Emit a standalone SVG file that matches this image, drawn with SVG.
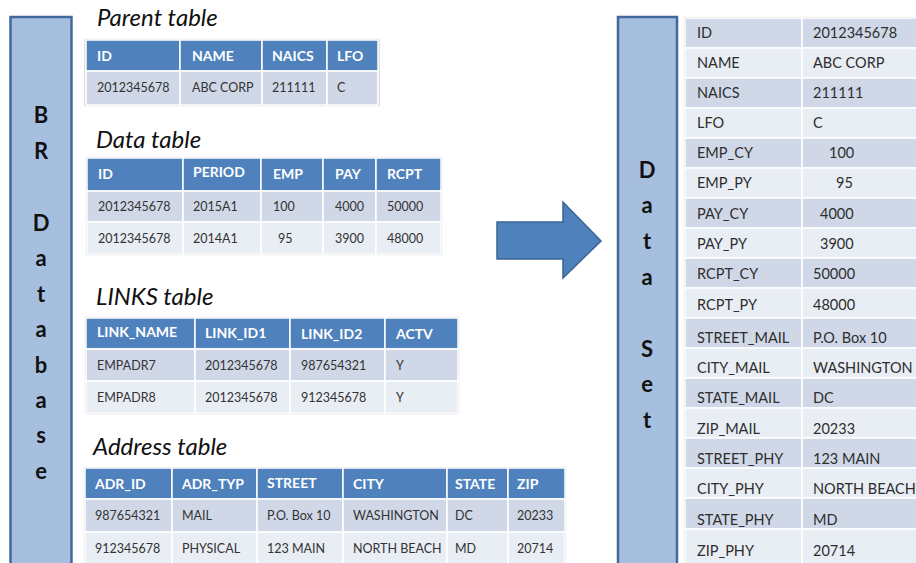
<svg xmlns="http://www.w3.org/2000/svg" width="916" height="563" viewBox="0 0 916 563">
  <style>
    .bar { fill: #a7bfdf; stroke: #41699a; stroke-width: 2.5; }
    .barTxt { font-family: Lato, "Liberation Sans", sans-serif; font-weight: bold; font-size: 22px; fill: #111; text-anchor: middle; }
    .title { font-family: Lato, "Liberation Sans", sans-serif; font-style: italic; font-size: 24px; fill: #111; }
    .frame { fill: #ffffff; stroke: #c8c8c8; stroke-width: 1.2; }
    .hd { fill: #4f81bd; stroke: #ffffff; stroke-width: 1.5; }
    .r1 { fill: #d0d8e8; stroke: #ffffff; stroke-width: 1.5; }
    .r2 { fill: #e9edf4; stroke: #ffffff; stroke-width: 1.5; }
    .ht { font-family: Lato, "Liberation Sans", sans-serif; font-weight: bold; font-size: 14px; fill: #ffffff; }
    .ct { font-family: Lato, "Liberation Sans", sans-serif; font-size: 12.5px; fill: #333333; }
    .rt { font-family: Lato, "Liberation Sans", sans-serif; font-size: 14.5px; fill: #2e2e2e; }
    .arrow { fill: #4f81bd; stroke: #3a6495; stroke-width: 1.5; }
  </style>

  <!-- source database bar -->
  <g id="br-database">
    <rect class="bar" x="10.5" y="17" width="61" height="560"/>
    <text class="barTxt" x="41" y="123">B</text>
    <text class="barTxt" x="41" y="159">R</text>
    <text class="barTxt" x="41" y="231">D</text>
    <text class="barTxt" x="41" y="266">a</text>
    <text class="barTxt" x="41" y="302">t</text>
    <text class="barTxt" x="41" y="337">a</text>
    <text class="barTxt" x="41" y="373">b</text>
    <text class="barTxt" x="41" y="408">a</text>
    <text class="barTxt" x="41" y="443">s</text>
    <text class="barTxt" x="41" y="479">e</text>
  </g>

  <!-- Parent table -->
  <g id="parent-table">
    <text class="title" x="97" y="26">Parent table</text>
    <rect class="frame" x="85" y="39.5" width="294" height="66"/>
    <rect class="hd" x="86" y="40" width="94" height="31"/>
    <rect class="hd" x="180" y="40" width="82" height="31"/>
    <rect class="hd" x="262" y="40" width="65" height="31"/>
    <rect class="hd" x="327" y="40" width="51" height="31"/>
    <rect class="r1" x="86" y="71" width="94" height="34"/>
    <rect class="r1" x="180" y="71" width="82" height="34"/>
    <rect class="r1" x="262" y="71" width="65" height="34"/>
    <rect class="r1" x="327" y="71" width="51" height="34"/>
    <text class="ht" x="97" y="61">ID</text>
    <text class="ht" x="192" y="61">NAME</text>
    <text class="ht" x="272" y="61">NAICS</text>
    <text class="ht" x="337" y="61">LFO</text>
    <text class="ct" x="97" y="92">2012345678</text>
    <text class="ct" x="192" y="92">ABC CORP</text>
    <text class="ct" x="272" y="92">211111</text>
    <text class="ct" x="337" y="92">C</text>
  </g>

  <!-- Data table -->
  <g id="data-table">
    <text class="title" x="96" y="148">Data table</text>
    <rect class="frame" x="86.5" y="157.5" width="355" height="97"/>
    <rect class="hd" x="87" y="158" width="96" height="33"/>
    <rect class="hd" x="183" y="158" width="78" height="33"/>
    <rect class="hd" x="261" y="158" width="62" height="33"/>
    <rect class="hd" x="323" y="158" width="53" height="33"/>
    <rect class="hd" x="376" y="158" width="65" height="33"/>
    <rect class="r1" x="87" y="191" width="96" height="31"/>
    <rect class="r1" x="183" y="191" width="78" height="31"/>
    <rect class="r1" x="261" y="191" width="62" height="31"/>
    <rect class="r1" x="323" y="191" width="53" height="31"/>
    <rect class="r1" x="376" y="191" width="65" height="31"/>
    <rect class="r2" x="87" y="222" width="96" height="32"/>
    <rect class="r2" x="183" y="222" width="78" height="32"/>
    <rect class="r2" x="261" y="222" width="62" height="32"/>
    <rect class="r2" x="323" y="222" width="53" height="32"/>
    <rect class="r2" x="376" y="222" width="65" height="32"/>
    <text class="ht" x="98" y="179">ID</text>
    <text class="ht" x="193" y="177" font-size="11.5">PERIOD</text>
    <text class="ht" x="273" y="179">EMP</text>
    <text class="ht" x="335" y="179">PAY</text>
    <text class="ht" x="387" y="179">RCPT</text>
    <text class="ct" x="98" y="211">2012345678</text>
    <text class="ct" x="193" y="211">2015A1</text>
    <text class="ct" x="273" y="211">100</text>
    <text class="ct" x="335" y="211">4000</text>
    <text class="ct" x="387" y="211">50000</text>
    <text class="ct" x="98" y="243">2012345678</text>
    <text class="ct" x="193" y="243">2014A1</text>
    <text class="ct" x="278" y="243">95</text>
    <text class="ct" x="335" y="243">3900</text>
    <text class="ct" x="387" y="243">48000</text>
  </g>

  <!-- LINKS table -->
  <g id="links-table">
    <text class="title" x="96" y="305">LINKS table</text>
    <rect class="frame" x="85.5" y="317.5" width="373" height="96"/>
    <rect class="hd" x="86" y="318" width="109" height="31"/>
    <rect class="hd" x="195" y="318" width="95" height="31"/>
    <rect class="hd" x="290" y="318" width="95" height="31"/>
    <rect class="hd" x="385" y="318" width="73" height="31"/>
    <rect class="r1" x="86" y="349" width="109" height="32"/>
    <rect class="r1" x="195" y="349" width="95" height="32"/>
    <rect class="r1" x="290" y="349" width="95" height="32"/>
    <rect class="r1" x="385" y="349" width="73" height="32"/>
    <rect class="r2" x="86" y="381" width="109" height="32"/>
    <rect class="r2" x="195" y="381" width="95" height="32"/>
    <rect class="r2" x="290" y="381" width="95" height="32"/>
    <rect class="r2" x="385" y="381" width="73" height="32"/>
    <text class="ht" x="97" y="337" font-size="10.5">LINK_NAME</text>
    <text class="ht" x="205" y="338">LINK_ID1</text>
    <text class="ht" x="301" y="339">LINK_ID2</text>
    <text class="ht" x="396" y="339">ACTV</text>
    <text class="ct" x="97" y="370">EMPADR7</text>
    <text class="ct" x="205" y="370">2012345678</text>
    <text class="ct" x="301" y="370">987654321</text>
    <text class="ct" x="396" y="370">Y</text>
    <text class="ct" x="97" y="402">EMPADR8</text>
    <text class="ct" x="205" y="402">2012345678</text>
    <text class="ct" x="301" y="402">912345678</text>
    <text class="ct" x="396" y="402">Y</text>
  </g>

  <!-- Address table -->
  <g id="address-table">
    <text class="title" x="93" y="455">Address table</text>
    <rect class="frame" x="84.5" y="467.5" width="481" height="100"/>
    <rect class="hd" x="85" y="468" width="87" height="31"/>
    <rect class="hd" x="172" y="468" width="85" height="31"/>
    <rect class="hd" x="257" y="468" width="86" height="31"/>
    <rect class="hd" x="343" y="468" width="104" height="31"/>
    <rect class="hd" x="447" y="468" width="61" height="31"/>
    <rect class="hd" x="508" y="468" width="57" height="31"/>
    <rect class="r1" x="85" y="499" width="87" height="33"/>
    <rect class="r1" x="172" y="499" width="85" height="33"/>
    <rect class="r1" x="257" y="499" width="86" height="33"/>
    <rect class="r1" x="343" y="499" width="104" height="33"/>
    <rect class="r1" x="447" y="499" width="61" height="33"/>
    <rect class="r1" x="508" y="499" width="57" height="33"/>
    <rect class="r2" x="85" y="532" width="87" height="33"/>
    <rect class="r2" x="172" y="532" width="85" height="33"/>
    <rect class="r2" x="257" y="532" width="86" height="33"/>
    <rect class="r2" x="343" y="532" width="104" height="33"/>
    <rect class="r2" x="447" y="532" width="61" height="33"/>
    <rect class="r2" x="508" y="532" width="57" height="33"/>
    <text class="ht" x="95" y="489">ADR_ID</text>
    <text class="ht" x="182" y="489">ADR_TYP</text>
    <text class="ht" x="267" y="488" font-size="11">STREET</text>
    <text class="ht" x="353" y="489">CITY</text>
    <text class="ht" x="455" y="489">STATE</text>
    <text class="ht" x="517" y="489">ZIP</text>
    <text class="ct" x="95" y="520">987654321</text>
    <text class="ct" x="182" y="520">MAIL</text>
    <text class="ct" x="267" y="520">P.O. Box 10</text>
    <text class="ct" x="353" y="520">WASHINGTON</text>
    <text class="ct" x="455" y="520">DC</text>
    <text class="ct" x="517" y="520">20233</text>
    <text class="ct" x="95" y="553">912345678</text>
    <text class="ct" x="182" y="553">PHYSICAL</text>
    <text class="ct" x="267" y="553">123 MAIN</text>
    <text class="ct" x="353" y="553">NORTH BEACH</text>
    <text class="ct" x="455" y="553">MD</text>
    <text class="ct" x="517" y="553">20714</text>
  </g>

  <!-- block arrow from the tables to the data set -->
  <g id="connectors">
    <polygon class="arrow" points="497,222 563,222 563,202 601,241 563,278 563,259 497,259"/>
  </g>

  <!-- output data set bar -->
  <g id="data-set">
    <rect class="bar" x="618" y="17" width="59" height="560"/>
    <text class="barTxt" x="647" y="178">D</text>
    <text class="barTxt" x="647" y="213">a</text>
    <text class="barTxt" x="647" y="249">t</text>
    <text class="barTxt" x="647" y="285">a</text>
    <text class="barTxt" x="647" y="357">S</text>
    <text class="barTxt" x="647" y="392">e</text>
    <text class="barTxt" x="647" y="428">t</text>
  </g>

  <!-- flattened record: field / value pairs -->
  <g id="data-set-table">
    <rect class="frame" x="684.5" y="17.5" width="240" height="560"/>
    <rect class="r1" x="685" y="18" width="117" height="30"/><rect class="r1" x="802" y="18" width="120" height="30"/>
    <rect class="r2" x="685" y="48" width="117" height="30"/><rect class="r2" x="802" y="48" width="120" height="30"/>
    <rect class="r1" x="685" y="78" width="117" height="30"/><rect class="r1" x="802" y="78" width="120" height="30"/>
    <rect class="r2" x="685" y="108" width="117" height="30"/><rect class="r2" x="802" y="108" width="120" height="30"/>
    <rect class="r1" x="685" y="138" width="117" height="30"/><rect class="r1" x="802" y="138" width="120" height="30"/>
    <rect class="r2" x="685" y="168" width="117" height="30"/><rect class="r2" x="802" y="168" width="120" height="30"/>
    <rect class="r1" x="685" y="198" width="117" height="30"/><rect class="r1" x="802" y="198" width="120" height="30"/>
    <rect class="r2" x="685" y="228" width="117" height="30"/><rect class="r2" x="802" y="228" width="120" height="30"/>
    <rect class="r1" x="685" y="258" width="117" height="30"/><rect class="r1" x="802" y="258" width="120" height="30"/>
    <rect class="r2" x="685" y="288" width="117" height="30"/><rect class="r2" x="802" y="288" width="120" height="30"/>
    <rect class="r1" x="685" y="318" width="117" height="30"/><rect class="r1" x="802" y="318" width="120" height="30"/>
    <rect class="r2" x="685" y="348" width="117" height="30"/><rect class="r2" x="802" y="348" width="120" height="30"/>
    <rect class="r1" x="685" y="378" width="117" height="30"/><rect class="r1" x="802" y="378" width="120" height="30"/>
    <rect class="r2" x="685" y="408" width="117" height="30"/><rect class="r2" x="802" y="408" width="120" height="30"/>
    <rect class="r1" x="685" y="438" width="117" height="30"/><rect class="r1" x="802" y="438" width="120" height="30"/>
    <rect class="r2" x="685" y="468" width="117" height="30"/><rect class="r2" x="802" y="468" width="120" height="30"/>
    <rect class="r1" x="685" y="498" width="117" height="31"/><rect class="r1" x="802" y="498" width="120" height="31"/>
    <rect class="r2" x="685" y="529" width="117" height="36"/><rect class="r2" x="802" y="529" width="120" height="36"/>

    <text class="rt" x="697" y="38">ID</text><text class="rt" x="813" y="38">2012345678</text>
    <text class="rt" x="697" y="68">NAME</text><text class="rt" x="813" y="68">ABC CORP</text>
    <text class="rt" x="697" y="98">NAICS</text><text class="rt" x="813" y="98">211111</text>
    <text class="rt" x="697" y="128">LFO</text><text class="rt" x="813" y="128">C</text>
    <text class="rt" x="697" y="158">EMP_CY</text><text class="rt" x="829" y="158">100</text>
    <text class="rt" x="697" y="188">EMP_PY</text><text class="rt" x="836" y="188">95</text>
    <text class="rt" x="697" y="219">PAY_CY</text><text class="rt" x="820" y="219">4000</text>
    <text class="rt" x="697" y="249">PAY_PY</text><text class="rt" x="820" y="249">3900</text>
    <text class="rt" x="697" y="279">RCPT_CY</text><text class="rt" x="813" y="279">50000</text>
    <text class="rt" x="697" y="310">RCPT_PY</text><text class="rt" x="813" y="310">48000</text>
    <text class="rt" x="697" y="343">STREET_MAIL</text><text class="rt" x="813" y="343">P.O. Box 10</text>
    <text class="rt" x="697" y="373">CITY_MAIL</text><text class="rt" x="813" y="373">WASHINGTON</text>
    <text class="rt" x="697" y="403">STATE_MAIL</text><text class="rt" x="813" y="403">DC</text>
    <text class="rt" x="697" y="434">ZIP_MAIL</text><text class="rt" x="813" y="434">20233</text>
    <text class="rt" x="697" y="464">STREET_PHY</text><text class="rt" x="813" y="464">123 MAIN</text>
    <text class="rt" x="697" y="494">CITY_PHY</text><text class="rt" x="813" y="494">NORTH BEACH</text>
    <text class="rt" x="697" y="525">STATE_PHY</text><text class="rt" x="813" y="525">MD</text>
    <text class="rt" x="697" y="556">ZIP_PHY</text><text class="rt" x="813" y="556">20714</text>
  </g>
</svg>
